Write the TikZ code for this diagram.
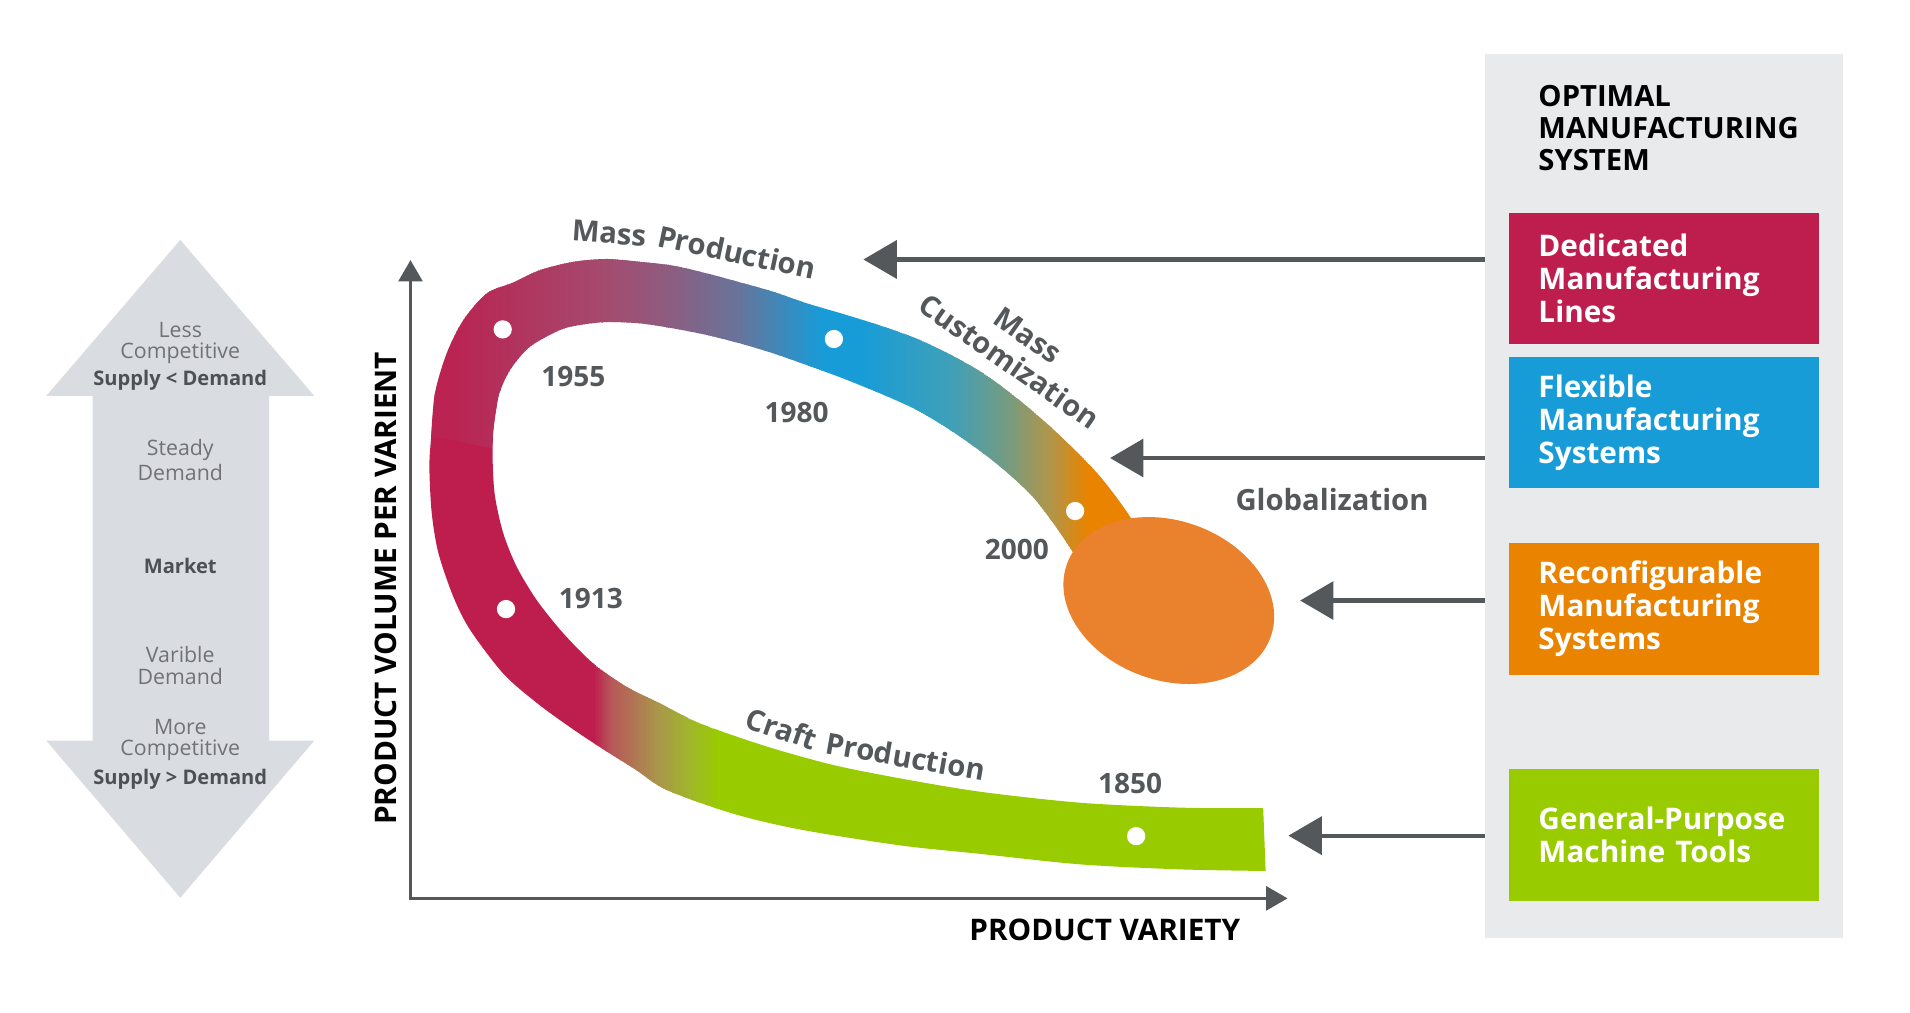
\documentclass[tikz,border=0pt]{standalone}
\usepackage{fontspec}
\setmainfont{Open Sans}
\usetikzlibrary{arrows.meta,calc}
\newcommand\myfs[1]{\fontsize{#1}{#1}\selectfont}
\definecolor{dg}{HTML}{54585A}
\definecolor{crim}{HTML}{BE1E4D}
\definecolor{crimt}{HTML}{BA2352}
\definecolor{blu}{HTML}{179CD8}
\definecolor{org}{HTML}{E98300}
\definecolor{grn}{HTML}{99CC00}
\definecolor{ellc}{HTML}{EA812C}
\definecolor{panelc}{HTML}{E9EAEC}
\definecolor{larr}{HTML}{D9DCE1}
\definecolor{lt}{HTML}{707275}
\definecolor{bt}{HTML}{4D5055}
\definecolor{cMauve}{HTML}{A54A6D}
\definecolor{cPurp}{HTML}{8E5C80}
\definecolor{cSlate}{HTML}{6B7298}
\definecolor{cTealB}{HTML}{3FA0B8}
\definecolor{cSage}{HTML}{6E9C88}
\definecolor{cOchre}{HTML}{B0964A}
\definecolor{cRose}{HTML}{B65A5A}
\definecolor{cOlive}{HTML}{A9964A}
\definecolor{cLime}{HTML}{A0B828}
% horizontal colour ramp made of thin vertical strips: x1, x2, colour1, colour2, ytop, ybottom
\newcommand\gradstrip[6]{%
  \pgfmathtruncatemacro\gsN{(#2-#1)/1.5}%
  \foreach \gsI in {0,...,\gsN}{%
    \pgfmathsetmacro\gsX{#1+\gsI*1.5}%
    \pgfmathtruncatemacro\gsP{100*\gsI/\gsN}%
    \fill[#4!\gsP!#3] (\gsX,#5) rectangle (\gsX+2,#6);
  }}
\tikzset{
  every node/.style={inner sep=0pt, outer sep=0pt},
  datelbl/.style={font=\myfs{23}\bfseries, text=dg},
  curvelbl/.style={font=\myfs{24}\bfseries, text=dg},
  axislbl/.style={font=\myfs{24.4}\bfseries, text=black},
  lighttxt/.style={font=\myfs{17.5}, text=lt},
  boldsmall/.style={font=\myfs{16.5}\bfseries, text=bt},
  sysbox/.style={minimum width=254pt, minimum height=108pt, text width=206pt, align=left, text=white, font=\fontsize{24.4}{27}\selectfont\bfseries, inner xsep=24pt},
  connarrow/.style={draw=dg, line width=3.5pt, -{Triangle[length=27.4pt, width=31pt]}},
  dotmark/.style={circle, fill=white, minimum size=15pt},
}
\begin{document}
\begin{tikzpicture}[x=1pt, y=-1pt]
\useasboundingbox (0,0) rectangle (1568,831);
\fill[white] (0,0) rectangle (1568,831);

% ---------- left market double arrow ----------
\fill[larr] (148,197) -- (258,325) -- (221,325) -- (221,608) -- (258,608) -- (148,737) -- (38,608) -- (76,608) -- (76,325) -- (38,325) -- cycle;
\node[lighttxt] (less) at (148,271) {Less};
\node[lighttxt] (comp1) at (148,290) {Competitive};
\node[boldsmall] (sd1) at (148,312) {Supply < Demand};
\node[lighttxt] (steady) at (148,369) {Steady};
\node[lighttxt] (dem1) at (148,388) {Demand};
\node[boldsmall] (market) at (148,465) {Market};
\node[lighttxt] (varible) at (148,537) {Varible};
\node[lighttxt] (dem2) at (148,555) {Demand};
\node[lighttxt] (more) at (148,597) {More};
\node[lighttxt] (comp2) at (148,616) {Competitive};
\node[boldsmall] (sd2) at (148,640) {Supply > Demand};

% ---------- band: lower piece (craft -> 1913) ----------
\begin{scope}
\clip plot[smooth, tension=0.5] coordinates {(357,323) (354,358) (352.5,383) (354.4,421) (359.9,454) (372.2,490) (385.9,517) (413.2,553) (440.6,577) (468,597) (495,615) (522,632) (547.4,648.6) (602,668) (657,681) (739,694) (805,701) (887,709.6) (969,713.7) (1039,715)}
  -- plot[smooth, tension=0.5] coordinates {(1037,663.5) (969,663) (887,659) (805,650) (739,639) (684,628) (630,613) (575,594) (542,577.4) (514.5,563.8) (487,544.6) (462.5,520) (440.6,492.6) (424.2,465.3) (413.2,437.9) (406.4,407.8) (404.5,380.4) (405,353) (409,326)} -- cycle;
\fill[crim] (300,300) rectangle (488,760);
\gradstrip{487}{503}{crim}{cRose}{300}{760}
\gradstrip{503}{540}{cRose}{cOlive}{300}{760}
\gradstrip{540}{567}{cOlive}{cLime}{300}{760}
\gradstrip{567}{591}{cLime}{grn}{300}{760}
\fill[grn] (592,300) rectangle (1100,760);
\end{scope}

% ---------- band: upper piece (1955 -> 2000) ----------
\begin{scope}
\clip plot[smooth, tension=0.5] coordinates {(354,358) (357,323) (366.7,290) (380.4,262.7) (399.6,240.8) (421,232) (443.3,221.7) (470.7,214.9) (498.1,212.6) (525.5,214.9) (552.8,218.1) (580.2,224.4) (607.6,231.8) (634.9,239.5) (662.3,249) (693,258) (725,268) (752.6,278) (780,291) (807.3,306.5) (835,327) (862,350) (885,372) (903,391) (920,413) (935,435) (950,458)}
  -- plot[smooth, tension=0.5] coordinates {(905,490) (880,452) (865,430) (848,408) (828,389) (807,372) (780,353) (752.6,336.6) (725,324) (693,311) (662.3,299.7) (634.9,290.1) (607.6,281.9) (580.2,275) (552.8,269.6) (525.5,265.5) (498.1,264.4) (476,266.8) (459.8,270.9) (435.1,284.6) (418.7,303.8) (409.1,325.7) (405,353) (404,368)} -- cycle;
\fill[crimt] (330,150) rectangle (371,520);
\gradstrip{370}{493}{crimt}{cMauve}{150}{520}
\gradstrip{493}{547}{cMauve}{cPurp}{150}{520}
\gradstrip{547}{602}{cPurp}{cSlate}{150}{520}
\gradstrip{602}{675}{cSlate}{blu}{150}{520}
\fill[blu] (676,150) rectangle (706,520);
\gradstrip{705}{780}{blu}{cTealB}{150}{520}
\gradstrip{780}{821}{cTealB}{cSage}{150}{520}
\gradstrip{821}{862}{cSage}{cOchre}{150}{520}
\gradstrip{862}{893}{cOchre}{org}{150}{520}
\fill[org] (894,150) rectangle (970,520);
\end{scope}

% ---------- globalization blob ----------
\fill[ellc, rotate around={-19.6:(959.5,493)}] (959.5,493) ellipse [x radius=88.8, y radius=65.5];

% ---------- year dots ----------
\node[dotmark] (d1955) at (412.7,270.4) {};
\node[dotmark] (d1980) at (684.6,278.3) {};
\node[dotmark] (d2000) at (882.6,419.5) {};
\node[dotmark] (d1913) at (415.4,500) {};
\node[dotmark] (d1850) at (932.7,686.4) {};

\node[datelbl] (y1955) at (470.6,309.2) {1955};
\node[datelbl] (y1980) at (654,338.8) {1980};
\node[datelbl] (y2000) at (834.7,451) {2000};
\node[datelbl] (y1913) at (485,491) {1913};
\node[datelbl] (y1850) at (927.8,643.1) {1850};

% ---------- curve labels ----------
\node[curvelbl, rotate=-4] (mp1) at (500,191.5) {Mass};
\node[curvelbl, rotate=-12] (mp2) at (605,207) {Production};
\node[curvelbl, rotate=-19] (cp1) at (642,598) {Craft};
\node[curvelbl, rotate=-10] (cp2) at (743.5,621) {Production};
\node[curvelbl, rotate=-35, align=center, font=\fontsize{24}{26.5}\selectfont\bfseries] (mcust) at (836,286) {Mass\\Customization};
\node[curvelbl] (glob) at (1093.5,410) {Globalization};

% ---------- axes ----------
\coordinate (orig) at (337,737.5);
\coordinate (ytip) at (337,213.5);
\coordinate (xtip) at (1057,737.5);
\draw[dg, line width=2.7pt, {Triangle[length=17.5pt, width=19.5pt]}-{Triangle[length=17.5pt, width=19.5pt]}] (ytip) -- (orig) -- (xtip);
\node[axislbl, rotate=90] (ylab) at (317,483) {PRODUCT VOLUME PER VARIENT};
\node[axislbl] (xlab) at (907,763) {PRODUCT VARIETY};

% ---------- right panel ----------
\node[fill=panelc, minimum width=294pt, minimum height=726pt, anchor=north west] (panel) at (1219,44) {};
\node[font=\fontsize{24}{26.3}\selectfont\bfseries, text=black, align=left, anchor=north west] (head) at (1263,70) {OPTIMAL\\MANUFACTURING\\SYSTEM};
\node[sysbox, fill=crim] (dml) at (1366,228.5) {Dedicated\\Manufacturing\\Lines};
\node[sysbox, fill=blu] (fms) at (1366,347) {Flexible\\Manufacturing\\Systems};
\node[sysbox, fill=org] (rms) at (1366,500) {Reconfigurable\\Manufacturing\\Systems};
\node[sysbox, fill=grn] (gpm) at (1366,685.5) {General-Purpose\\Machine Tools};

% ---------- arrows from panel ----------
\coordinate (a1) at (708.8,213);
\coordinate (a2) at (911.3,376);
\coordinate (a3) at (1067.3,493);
\coordinate (a4) at (1057.7,686);
\draw[connarrow] (panel.west |- a1) -- (a1);
\draw[connarrow] (panel.west |- a2) -- (a2);
\draw[connarrow] (panel.west |- a3) -- (a3);
\draw[connarrow] (panel.west |- a4) -- (a4);
\end{tikzpicture}
\end{document}
